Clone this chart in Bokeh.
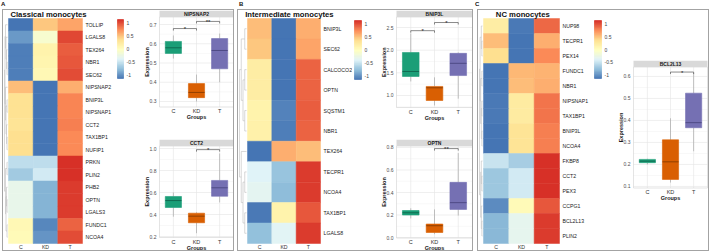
import numpy as np
from bokeh.plotting import figure
from bokeh.models import Range1d, LinearColorMapper, ColumnDataSource, Spacer, Div
from bokeh.layouts import row, column
from bokeh.embed import file_html
from bokeh.resources import INLINE
from bokeh.core.properties import value

FONT = "Liberation Sans"
BORDER = "#a3a3a3"
groups = ["C", "KD", "T"]
group_colors = ["#1b9e77", "#d95f02", "#7570b3"]
median_colors = ["#0e5e47", "#7f3701", "#45417a"]
panel_letters = ["A", "B", "C"]

# ---------------- heatmap data (row-scaled expression) ----------------
A_title = "Classical monocytes"
A_genes = ["TOLLIP", "LGALS8", "TEX264", "NBR1", "SEC62", "NIPSNAP2", "BNIP3L", "NIPSNAP1", "CCT2",
           "TAX1BP1", "NUFIP1", "PRKN", "PLIN2", "PHB2", "OPTN", "LGALS3", "FUNDC1", "NCOA4"]
A_C = [-1.15, -0.95, -1.10, -1.10, -1.10, 0.55, 0.35, 0.35, 0.33, 0.38, 0.38, -0.55, -0.68, -0.28, -0.28, -0.28, 0.08, 0.05]
A_KD = [0.50, -0.10, 0.15, 0.12, 0.08, -1.15, -1.15, -1.15, -1.15, -1.15, -1.15, -0.55, -0.45, -0.82, -0.82, -0.82, -1.05, -0.98]
A_T = [0.65, 1.05, 0.95, 0.98, 1.02, 0.60, 0.80, 0.80, 0.82, 0.77, 0.77, 1.15, 1.13, 1.10, 1.10, 1.10, 0.94, 1.03]
A_tree = (((0, (1, (2, (3, 4)))), (5, ((6, 7), (8, (9, 10))))), ((11, 12), ((13, (14, 15)), (16, 17))))

B_title = "Intermediate monocytes"
B_genes = ["BNIP3L", "SEC62", "CALCOCO2", "OPTN", "SQSTM1", "NBR1", "TEX264", "TECPR1", "NCOA4", "TAX1BP1", "LGALS8"]
B_C = [0.55, 0.50, 0.22, 0.22, 0.15, 0.18, -1.15, -0.38, -0.33, -1.12, -0.75]
B_KD = [-1.15, -1.15, -1.15, -1.15, -1.08, -1.10, 0.62, -0.72, -0.77, 0.15, -0.35]
B_T = [0.60, 0.65, 0.93, 0.93, 0.95, 0.92, 0.53, 1.10, 1.10, 0.97, 1.10]
B_tree = (((0, 1), ((2, 3), (4, 5))), (6, ((7, 8), (9, 10))))

C_title = "NC monocytes"
C_genes = ["NUP98", "TECPR1", "PEX14", "FUNDC1", "NBR1", "NIPSNAP1", "TAX1BP1", "BNIP3L", "NCOA4",
           "FKBP8", "CCT2", "PEX3", "CCPG1", "BCL2L13", "PLIN2"]
C_C = [0.22, 0.55, 0.38, -1.15, -1.15, -1.12, -1.12, -1.15, -1.15, -0.50, -0.70, -0.70, -1.02, -0.80, -0.80]
C_KD = [-1.12, -1.15, -1.15, 0.57, 0.55, 0.25, 0.25, 0.33, 0.33, -0.65, -0.45, -0.45, 0.05, -0.30, -0.30]
C_T = [0.90, 0.60, 0.77, 0.58, 0.60, 0.87, 0.87, 0.82, 0.82, 1.15, 1.15, 1.15, 0.97, 1.10, 1.10]
C_tree = (((0, (1, 2)), ((3, 4), ((5, 6), (7, 8)))), ((9, (10, 11)), (12, (13, 14))))

legend_ticks = [-1, -0.5, 0, 0.5, 1]
legend_labels = ["-1", "-0.5", "0", "0.5", "1"]

# ---------------- box plot data (whisker low, Q1, median, Q3, whisker high) ----------------
NIPSNAP2 = dict(lo=[0.523, 0.300, 0.400], q1=[0.550, 0.320, 0.470], med=[0.579, 0.347, 0.565],
                q3=[0.612, 0.393, 0.627], hi=[0.643, 0.440, 0.653])
NIPSNAP2_sig = [("C", "KD", 0.679, "*"), ("KD", "T", 0.716, "**")]
NIPSNAP2_ticks = [0.3, 0.4, 0.5, 0.6, 0.7]
NIPSNAP2_labels = ["0.3", "0.4", "0.5", "0.6", "0.7"]

CCT2 = dict(lo=[0.380, 0.230, 0.510], q1=[0.464, 0.325, 0.566], med=[0.527, 0.385, 0.643],
            q3=[0.564, 0.412, 0.710], hi=[0.600, 0.420, 0.955])
CCT2_sig = [("KD", "T", 0.99, "*")]
CCT2_ticks = [0.2, 0.4, 0.6, 0.8, 1.0]
CCT2_labels = ["0.2", "0.4", "0.6", "0.8", "1.0"]

BNIP3L = dict(lo=[1.31, 0.78, 0.93], q1=[1.42, 0.89, 1.44], med=[1.53, 1.17, 1.71],
              q3=[1.95, 1.20, 1.93], hi=[2.37, 1.40, 1.95])
BNIP3L_sig = [("C", "KD", 2.43, "*"), ("KD", "T", 2.61, "*")]
BNIP3L_ticks = [1.0, 1.5, 2.0, 2.5]
BNIP3L_labels = ["1.0", "1.5", "2.0", "2.5"]

OPTN = dict(lo=[0.170, 0.030, 0.195], q1=[0.200, 0.045, 0.250], med=[0.220, 0.105, 0.310],
            q3=[0.240, 0.120, 0.490], hi=[0.260, 0.250, 0.750])
OPTN_sig = [("KD", "T", 0.79, "**")]
OPTN_ticks = [0.0, 0.2, 0.4, 0.6, 0.8]
OPTN_labels = ["0.0", "0.2", "0.4", "0.6", "0.8"]

BCL2L13 = dict(lo=[0.200, 0.118, 0.260], q1=[0.208, 0.132, 0.367], med=[0.215, 0.212, 0.390],
               q3=[0.223, 0.312, 0.524], hi=[0.226, 0.410, 0.615])
BCL2L13_sig = [("KD", "T", 0.62, "*")]
BCL2L13_ticks = [0.1, 0.2, 0.3, 0.4, 0.5, 0.6]
BCL2L13_labels = ["0.1", "0.2", "0.3", "0.4", "0.5", "0.6"]

# ---------------- colour scale ----------------
base_cols = ["#4575B4", "#91BFDB", "#E0F3F8", "#FFFFBF", "#FEE090", "#FC8D59", "#D73027"]


def ramp(cols, n):
    rgb = np.array([[int(c[i:i + 2], 16) for i in (1, 3, 5)] for c in cols], float)
    pos = np.linspace(0, 1, len(cols))
    out = []
    for t in np.linspace(0, 1, n):
        r = [int(round(np.interp(t, pos, rgb[:, k]))) for k in range(3)]
        out.append("#%02x%02x%02x" % tuple(r))
    return out


PAL = ramp(base_cols, 100)
M = 1.15
mapper = LinearColorMapper(palette=PAL, low=-M, high=M)

HM_H = 240        # heatmap / colour-bar figure height (whole frame)
HM_TITLE = 8      # px reserved for the title above the cells
HM_BOTTOM = 7     # px reserved for column labels below the cells


def base_fig(**kw):
    p = figure(toolbar_location=None, output_backend="svg", min_border_left=0, min_border_right=0,
               min_border_top=0, min_border_bottom=0, x_axis_location=None, y_axis_location=None, **kw)
    p.background_fill_color = "white"
    p.border_fill_color = "white"
    p.outline_line_color = None
    p.grid.visible = False
    return p


def txt(p, x, y, t, size, bold=False, color="#222222", align="center", baseline="middle", **kw):
    p.text(x=x, y=y, text=t, text_font=value(FONT), text_font_size=size,
           text_font_style="bold" if bold else "normal", text_color=color,
           text_align=align, text_baseline=baseline, **kw)


def dendro(tree):
    segs = []

    def rec(node):
        if isinstance(node, int):
            return node + 0.5, 0
        res = [rec(c) for c in node]
        h = max(r[1] for r in res) + 1
        ys_ = [r[0] for r in res]
        for cy, ch in res:
            segs.append((ch, cy, h, cy))
        segs.append((h, min(ys_), h, max(ys_)))
        return sum(ys_) / len(ys_), h

    _, H = rec(tree)
    return segs, H


def heatmap_fig(genes, cv, kv, tv, title, tree, fig_w, dend_px, heat_w, title_x):
    n = len(genes)
    col_px = heat_w / 3.0
    row_px = (HM_H - HM_TITLE - HM_BOTTOM) / n
    xlo = -dend_px / col_px
    xhi = 3 + (fig_w - dend_px - heat_w) / col_px
    p = base_fig(width=fig_w, height=HM_H, x_range=Range1d(xlo, xhi),
                 y_range=Range1d(n + HM_BOTTOM / row_px, -HM_TITLE / row_px))
    xs, ys, vs = [], [], []
    for i in range(n):
        for j, col in enumerate((cv, kv, tv)):
            xs.append(j + 0.5)
            ys.append(i + 0.5)
            vs.append(col[i])
    src = ColumnDataSource(dict(x=xs, y=ys, v=vs))
    p.rect(x="x", y="y", width=1, height=1, source=src,
           fill_color={"field": "v", "transform": mapper},
           line_color={"field": "v", "transform": mapper}, line_width=0.5)
    segs, H = dendro(tree)
    span = -xlo - 0.08

    def sx(h):
        return -0.04 - span * h / H

    p.segment(x0=[sx(s[0]) for s in segs], y0=[s[1] for s in segs],
              x1=[sx(s[2]) for s in segs], y1=[s[3] for s in segs],
              line_color="#bdbdbd", line_width=0.6)
    txt(p, [3] * n, [i + 0.5 for i in range(n)], genes, "5.2px", align="left", x_offset=3)
    txt(p, [0.5, 1.5, 2.5], [n] * 3, groups, "5.2px", color="#333333", y_offset=3.8)
    txt(p, [title_x], [-HM_TITLE / row_px / 2], [title], "7.7px", bold=True, color="#111111")
    return p


def colorbar_fig(fig_w, left, bar_w, bar_top, bar_h):
    s = 2 * M / bar_h
    y_end = M + bar_top * s
    y_start = -M - (HM_H - bar_top - bar_h) * s
    x_end = 1 + (fig_w - left - bar_w) / bar_w
    x_start = -left / bar_w
    p = base_fig(width=fig_w, height=HM_H, x_range=Range1d(x_start, x_end), y_range=Range1d(y_start, y_end))
    edges = np.linspace(-M, M, len(PAL) + 1)
    p.quad(left=0, right=1, bottom=edges[:-1], top=edges[1:], fill_color=PAL, line_color=PAL, line_width=0.5)
    txt(p, [1] * len(legend_ticks), legend_ticks, legend_labels, "5px", color="#444444", align="left",
        x_offset=3)
    return p


def box_fig(name, st, sig, ticks, labels, ylo, yhi, fig_w, fig_h, plot_left, plot_right, header_px,
            plot_bottom):
    plot_top = header_px
    uy = (plot_bottom - plot_top) / (yhi - ylo)
    ux = (plot_right - plot_left) / 3.2
    x_start = 0.4 - plot_left / ux
    x_end = 3.6 + (fig_w - plot_right) / ux
    y_head = yhi + header_px / uy
    y_start = ylo - (fig_h - plot_bottom) / uy
    p = base_fig(width=fig_w, height=fig_h, x_range=Range1d(x_start, x_end), y_range=Range1d(y_start, y_head))
    step = ticks[1] - ticks[0]
    minor = [ticks[0] - step / 2] + [(a + b) / 2 for a, b in zip(ticks[:-1], ticks[1:])] + [ticks[-1] + step / 2]
    minor = [m for m in minor if ylo < m < yhi]
    p.segment(x0=0.4, x1=3.6, y0=minor, y1=minor, line_color="#f1f1f1", line_width=0.5)
    p.segment(x0=0.4, x1=3.6, y0=ticks, y1=ticks, line_color="#e4e4e4", line_width=0.6)
    p.segment(x0=[1, 2, 3], x1=[1, 2, 3], y0=ylo, y1=yhi, line_color="#e4e4e4", line_width=0.6)
    p.quad(left=0.4, right=3.6, bottom=ylo, top=yhi, fill_color=None, line_color="#d2d2d2", line_width=0.6)
    xs = [1, 2, 3]
    p.segment(x0=xs, y0=st["lo"], x1=xs, y1=st["q1"], line_color="#a8a8a8", line_width=0.7)
    p.segment(x0=xs, y0=st["q3"], x1=xs, y1=st["hi"], line_color="#a8a8a8", line_width=0.7)
    p.vbar(x=xs, width=0.7, bottom=st["q1"], top=st["q3"], fill_color=group_colors,
           line_color=group_colors, line_width=0.6)
    p.segment(x0=[x - 0.35 for x in xs], x1=[x + 0.35 for x in xs], y0=st["med"], y1=st["med"],
              line_color=median_colors, line_width=0.8)
    tip = 2.0 / uy
    for g1, g2, yb, lab in sig:
        x1 = groups.index(g1) + 1
        x2 = groups.index(g2) + 1
        p.multi_line(xs=[[x1, x1, x2, x2]], ys=[[yb - tip, yb, yb, yb - tip]], line_color="#3a3a3a",
                     line_width=0.6)
        txt(p, [(x1 + x2) / 2], [yb], [lab], "6px", baseline="alphabetic", y_offset=0.5)
    # facet strip
    p.quad(left=0.4, right=3.6, bottom=yhi, top=y_head, fill_color="#d9d9d9", line_color=None)
    txt(p, [2], [(yhi + y_head) / 2], [name], "5px", bold=True, color="#1a1a1a")
    # axis texts
    txt(p, [0.4] * len(ticks), ticks, labels, "5px", color="#4d4d4d", align="right", x_offset=-3)
    txt(p, [0.4], [(ylo + yhi) / 2], ["Expression"], "5.5px", bold=True, color="#1a1a1a",
        angle=np.pi / 2, x_offset=-12.5)
    txt(p, xs, [ylo] * 3, groups, "5.5px", color="#333333", y_offset=4.3)
    txt(p, [2], [ylo], ["Groups"], "5.5px", bold=True, color="#1a1a1a", y_offset=10.3)
    return p


def line_sp(w, h):
    return Spacer(width=w, height=h, styles={"background-color": BORDER})


def framed(inner, iw, ih):
    return column(line_sp(iw + 2, 1), row(line_sp(1, ih), inner, line_sp(1, ih)), line_sp(iw + 2, 1))


# ---------------- panel letters strip ----------------
LETTER_X = [1, 239, 475]
letters = Div(
    text="".join('<span style="position:absolute;left:%dpx;top:0px;">%s</span>' % (x, l)
                 for x, l in zip(LETTER_X, panel_letters)),
    width=712, height=9, margin=0,
    styles={"position": "relative", "font-size": "6px", "font-weight": "bold", "font-family": FONT,
            "line-height": "8px", "color": "#111111", "overflow": "visible"})

# ---------------- Panel A ----------------
hmA = heatmap_fig(A_genes, A_C, A_KD, A_T, A_title, A_tree, fig_w=109, dend_px=5, heat_w=74, title_x=1.62)
cbA = colorbar_fig(fig_w=28, left=5, bar_w=6, bar_top=9, bar_h=59)
bxA1 = box_fig("NIPSNAP2", NIPSNAP2, NIPSNAP2_sig, NIPSNAP2_ticks, NIPSNAP2_labels, 0.2714, 0.739,
               fig_w=93, fig_h=112, plot_left=19, plot_right=93, header_px=6.5, plot_bottom=96.5)
bxA2 = box_fig("CCT2", CCT2, CCT2_sig, CCT2_ticks, CCT2_labels, 0.191, 1.023,
               fig_w=93, fig_h=111, plot_left=19, plot_right=93, header_px=6.5, plot_bottom=98)
innerA = row(hmA, cbA, column(bxA1, Spacer(width=93, height=17), bxA2))
panelA = row(Spacer(width=2, height=242), framed(innerA, 230, 240))

# ---------------- Panel B ----------------
hmB = heatmap_fig(B_genes, B_C, B_KD, B_T, B_title, B_tree, fig_w=114, dend_px=9, heat_w=73, title_x=1.72)
cbB = colorbar_fig(fig_w=24, left=2, bar_w=7, bar_top=10, bar_h=59)
bxB1 = box_fig("BNIP3L", BNIP3L, BNIP3L_sig, BNIP3L_ticks, BNIP3L_labels, 0.735, 2.732,
               fig_w=96, fig_h=112, plot_left=20, plot_right=96, header_px=6.5, plot_bottom=97)
bxB2 = box_fig("OPTN", OPTN, OPTN_sig, OPTN_ticks, OPTN_labels, -0.004, 0.813,
               fig_w=96, fig_h=111, plot_left=20, plot_right=96, header_px=6.5, plot_bottom=98.5)
innerB = row(hmB, cbB, column(bxB1, Spacer(width=96, height=17), bxB2))
panelB = row(Spacer(width=3, height=242), framed(innerB, 234, 240))

# ---------------- Panel C ----------------
hmC = heatmap_fig(C_genes, C_C, C_KD, C_T, C_title, C_tree, fig_w=111, dend_px=5, heat_w=76, title_x=1.55)
cbC = colorbar_fig(fig_w=26, left=5, bar_w=7, bar_top=10, bar_h=58)
bxC1 = box_fig("BCL2L13", BCL2L13, BCL2L13_sig, BCL2L13_ticks, BCL2L13_labels, 0.093, 0.643,
               fig_w=93, fig_h=143, plot_left=18, plot_right=92, header_px=6.5, plot_bottom=127.5)
innerC = row(hmC, cbC, column(Spacer(width=93, height=50), bxC1, Spacer(width=93, height=47)))
panelC = row(Spacer(width=4, height=242), framed(innerC, 230, 240))

layout = column(letters, row(panelA, panelB, panelC))

open("out.html", "w").write(file_html(layout, INLINE))
